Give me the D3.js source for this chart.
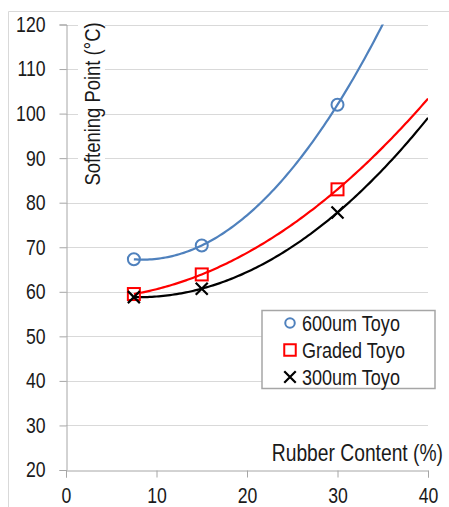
<!DOCTYPE html>
<html>
<head>
<meta charset="utf-8">
<script src="https://cdn.jsdelivr.net/npm/d3@7"></script>
<style>
  html, body { margin: 0; padding: 0; background: #fff; }
  svg { display: block; }
  text { font-family: "Liberation Sans", Arial, sans-serif; fill: #1a1a1a; }
</style>
</head>
<body>
<svg id="chart" width="449" height="507"></svg>
<script>
// Rubber content (%) of each blend
const rubberContent = [7.5, 15, 30];

// Softening point (°C) per crumb rubber gradation
const toyo600 = [67.3, 70.4, 102.0];
const gradedToyo = [59.5, 63.9, 83.0];
const toyo300 = [58.8, 60.7, 77.8];

const seriesNames = ["600um Toyo", "Graded Toyo", "300um Toyo"];

const xTicks = [0, 10, 20, 30, 40];
const yTicks = [20, 30, 40, 50, 60, 70, 80, 90, 100, 110, 120];

const xTitle = "Rubber Content (%)";
const yTitle = "Softening Point (°C)";

const svg = d3.select("#chart");
const W = 449, H = 507;
const plot = { left: 66, right: 428, top: 24.5, bottom: 470 };

// Condensed lettering: squeeze glyphs horizontally about the anchor
const K = 0.82;
function narrow(sel) {
  sel.each(function () {
    const t = d3.select(this);
    const xv = +t.attr("x") || 0;
    t.attr("x", xv / K).attr("transform", `scale(${K},1)`);
  });
}

const x = d3.scaleLinear().domain([0, 40]).range([plot.left, plot.right]);
const y = d3.scaleLinear().domain([20, 120]).range([plot.bottom, plot.top]);

// Outer chart-area frame (top and left edges)
svg.append("path")
  .attr("d", `M8.5,${H} V11.5 H${W}`)
  .attr("fill", "none").attr("stroke", "#d9d9d9").attr("stroke-width", 1);

// Horizontal gridlines
svg.append("g").selectAll("line")
  .data(yTicks.filter(v => v > 20))
  .join("line")
  .attr("x1", plot.left).attr("x2", plot.right)
  .attr("y1", d => Math.round(y(d)) + 0.5).attr("y2", d => Math.round(y(d)) + 0.5)
  .attr("stroke", "#d9d9d9").attr("stroke-width", 1);

// Axes
const xAxis = svg.append("g")
  .attr("transform", `translate(0,${Math.round(plot.bottom) + 0.5})`)
  .call(d3.axisBottom(x).tickValues(xTicks).tickSize(7).tickPadding(10).tickFormat(d3.format("d")));
const yAxis = svg.append("g")
  .attr("transform", `translate(${plot.left + 0.5},0)`)
  .call(d3.axisLeft(y).tickValues(yTicks).tickSize(7).tickPadding(14).tickFormat(d3.format("d")));

[xAxis, yAxis].forEach(g => {
  g.select(".domain").attr("stroke", "#a6a6a6");
  g.selectAll(".tick line").attr("stroke", "#a6a6a6");
  g.selectAll(".tick text")
    .attr("font-family", null)
    .attr("font-size", 21.5)
    .attr("fill", "#1a1a1a");
  narrow(g.selectAll(".tick text"));
});
xAxis.selectAll(".tick text").attr("dy", "0.71em");

// Quadratic trendline through the three measured points (Lagrange form)
function quadFit(xs, ys) {
  return t => {
    let s = 0;
    for (let i = 0; i < 3; i++) {
      let p = ys[i];
      for (let j = 0; j < 3; j++) if (j !== i) p *= (t - xs[j]) / (xs[i] - xs[j]);
      s += p;
    }
    return s;
  };
}

const series = [
  { name: seriesNames[0], values: toyo600, color: "#4f81bd", marker: "circle" },
  { name: seriesNames[1], values: gradedToyo, color: "#ff0000", marker: "square" },
  { name: seriesNames[2], values: toyo300, color: "#000000", marker: "cross" }
];

svg.append("clipPath").attr("id", "plotClip")
  .append("rect")
  .attr("x", plot.left).attr("y", plot.top)
  .attr("width", plot.right - plot.left).attr("height", plot.bottom - plot.top);

const line = d3.line().x(d => x(d[0])).y(d => y(d[1]));
const trendX = d3.range(rubberContent[0], 40.001, 0.25);

const trendG = svg.append("g").attr("clip-path", "url(#plotClip)");
series.forEach(s => {
  const f = quadFit(rubberContent, s.values);
  trendG.append("path")
    .attr("d", line(trendX.map(t => [t, f(t)])))
    .attr("fill", "none").attr("stroke", s.color).attr("stroke-width", 2.2);
});

function drawMarker(g, type, color, cx, cy, size) {
  if (type === "circle") {
    g.append("circle").attr("cx", cx).attr("cy", cy).attr("r", size * 0.5)
      .attr("fill", "none").attr("stroke", color).attr("stroke-width", 2);
  } else if (type === "square") {
    g.append("rect").attr("x", cx - size / 2).attr("y", cy - size / 2)
      .attr("width", size).attr("height", size)
      .attr("fill", "none").attr("stroke", color).attr("stroke-width", 2);
  } else {
    const h = size / 2;
    g.append("path").attr("d", `M${cx - h},${cy - h}L${cx + h},${cy + h}M${cx - h},${cy + h}L${cx + h},${cy - h}`)
      .attr("stroke", color).attr("stroke-width", 2.2).attr("fill", "none");
  }
}

const markG = svg.append("g");
series.forEach(s => {
  s.values.forEach((v, i) => {
    drawMarker(markG, s.marker, s.color, x(rubberContent[i]), y(v), 12);
  });
});

// Y-axis title inside the plot on a white backing
const yTitleG = svg.append("g").attr("transform", `translate(100,104) rotate(-90)`);
yTitleG.append("rect").attr("x", -86).attr("y", -22).attr("width", 172).attr("height", 27).attr("fill", "#fff");
yTitleG.append("text").attr("text-anchor", "middle").attr("font-size", 22.5).text(yTitle)
  .call(narrow);

// X-axis title
svg.append("text").attr("x", 443).attr("y", 461).attr("text-anchor", "end")
  .attr("font-size", 23.5).text(xTitle)
  .call(narrow);

// Legend
const lg = svg.append("g");
lg.append("rect").attr("x", 262).attr("y", 310.5).attr("width", 173).attr("height", 78)
  .attr("fill", "#fff").attr("stroke", "#a6a6a6").attr("stroke-width", 1.5);
series.forEach((s, i) => {
  const cy = 323 + i * 27;
  drawMarker(lg, s.marker, s.color, 290, cy, s.marker === "circle" ? 9.5 : 11.5);
  lg.append("text").attr("x", 302).attr("y", cy).attr("dy", "0.36em")
    .attr("font-size", 22).text(s.name)
    .call(narrow);
});
</script>
</body>
</html>
